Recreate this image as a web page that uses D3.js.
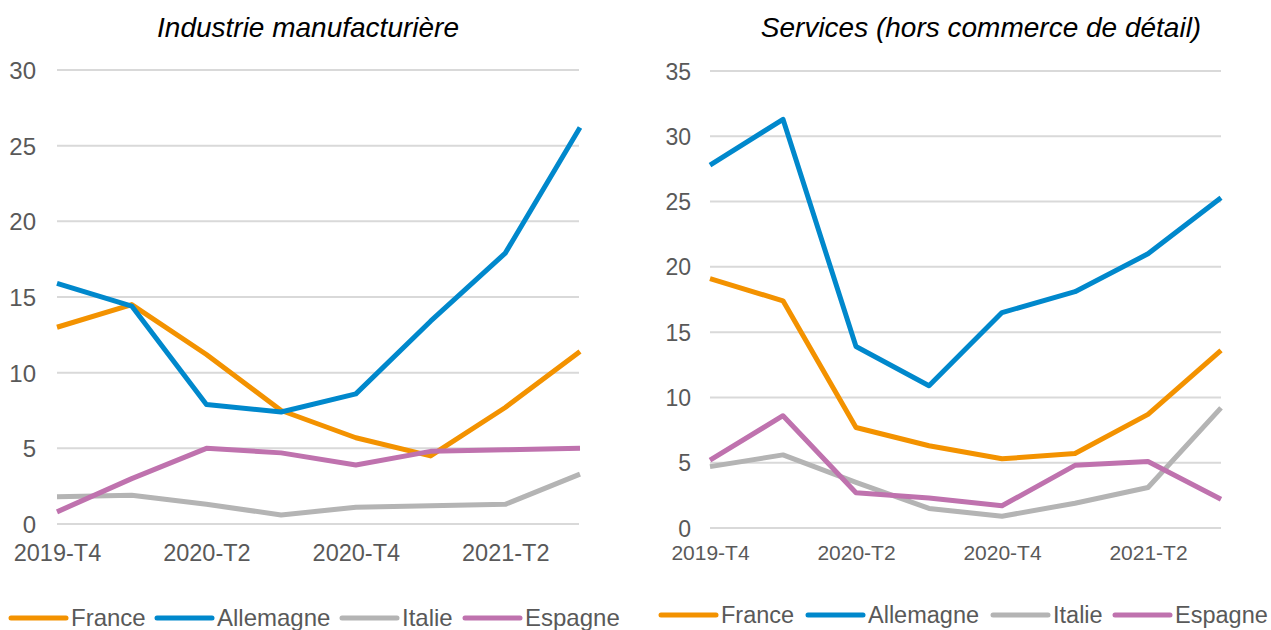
<!DOCTYPE html>
<html><head><meta charset="utf-8">
<script src="https://cdn.jsdelivr.net/npm/d3@7"></script>
<style>body{margin:0;background:#fff;}svg{display:block;font-family:"Liberation Sans",Arial,sans-serif;}</style>
</head><body>
<svg id="c" width="1271" height="630"></svg>
<script>
const quarters = ["2019-T4","2020-T1","2020-T2","2020-T3","2020-T4","2021-T1","2021-T2","2021-T3"];
const tickLabels = ["2019-T4","2020-T2","2020-T4","2021-T2"];
const seriesNames = ["France","Allemagne","Italie","Espagne"];
const seriesColors = ["#F39200","#0088CC","#B4B4B4","#BF72AE"];

const industrieFrance    = [13.0, 14.5, 11.2, 7.5, 5.7, 4.5, 7.7, 11.4];
const industrieAllemagne = [15.9, 14.4, 7.9, 7.4, 8.6, 13.4, 17.9, 26.2];
const industrieItalie    = [1.8, 1.9, 1.3, 0.6, 1.1, 1.2, 1.3, 3.3];
const industrieEspagne   = [0.8, 3.0, 5.0, 4.7, 3.9, 4.8, 4.9, 5.0];

const servicesFrance    = [19.1, 17.4, 7.7, 6.3, 5.3, 5.7, 8.7, 13.6];
const servicesAllemagne = [27.8, 31.3, 13.9, 10.9, 16.5, 18.1, 21.0, 25.3];
const servicesItalie    = [4.7, 5.6, 3.5, 1.5, 0.9, 1.9, 3.1, 9.2];
const servicesEspagne   = [5.2, 8.6, 2.7, 2.3, 1.7, 4.8, 5.1, 2.2];

const industrieTicks = [0,5,10,15,20,25,30];
const servicesTicks = [0,5,10,15,20,25,30,35];

const svg = d3.select("#c");

function panel(cfg){
  const g = svg.append("g");
  const x = d3.scalePoint().domain(quarters).range([cfg.x0, cfg.x1]);
  const y = d3.scaleLinear().domain([0, cfg.ymax]).range([cfg.yb, cfg.yt]);
  g.append("g").selectAll("line").data(cfg.yticks).join("line")
    .attr("x1", cfg.x0).attr("x2", cfg.gx1)
    .attr("y1", d=>y(d)).attr("y2", d=>y(d))
    .attr("stroke","#D9D9D9").attr("stroke-width",2);
  const ya = d3.axisLeft(y).tickValues(cfg.yticks).tickSize(0).tickPadding(0);
  const yg = g.append("g").attr("transform",`translate(${cfg.ylabX},0)`).call(ya);
  yg.select(".domain").remove();
  yg.selectAll("text").attr("fill","#595959").style("font-size",cfg.yfs+"px").attr("dy","0.35em");
  const xa = d3.axisBottom(x).tickValues(tickLabels).tickSize(0).tickPadding(0);
  const xg = g.append("g").attr("transform",`translate(0,${cfg.xlabY})`).call(xa);
  xg.select(".domain").remove();
  xg.selectAll("text").attr("fill","#595959").style("font-size",cfg.xfs+"px").attr("dy","0");
  const line = d3.line().x((d,i)=>x(quarters[i])).y(d=>y(d));
  cfg.data.forEach((s,i)=>{
    g.append("path").datum(s).attr("d",line).attr("fill","none")
      .attr("stroke",seriesColors[i]).attr("stroke-width",5).attr("stroke-linejoin","round");
  });
  g.append("text").attr("x",cfg.tx).attr("y",37).attr("text-anchor","middle")
    .style("font-size","28px").style("font-style","italic").attr("fill","#000").text(cfg.title);
  const lg = g.append("g");
  seriesNames.forEach((n,i)=>{
    const lx = cfg.legX[i];
    lg.append("line").attr("x1",lx).attr("x2",lx+55).attr("y1",cfg.legY).attr("y2",cfg.legY)
      .attr("stroke",seriesColors[i]).attr("stroke-width",5).attr("stroke-linecap","round");
    lg.append("text").attr("x",lx+60).attr("y",cfg.legY).attr("dy","0.35em")
      .attr("fill","#595959").style("font-size",cfg.lfs+"px").text(n);
  });
}

panel({x0:57, x1:580, gx1:579, yb:524, yt:70, ymax:30, yticks:industrieTicks, ylabX:36, yfs:24, xlabY:561, xfs:23.5, lfs:24,
  data:[industrieFrance,industrieAllemagne,industrieItalie,industrieEspagne],
  title:"Industrie manufacturière", tx:308, legX:[11,157,342,465], legY:618});
panel({x0:710, x1:1221, gx1:1221, yb:528, yt:71, ymax:35, yticks:servicesTicks, ylabX:691, yfs:23, xlabY:560, xfs:21, lfs:23.5,
  data:[servicesFrance,servicesAllemagne,servicesItalie,servicesEspagne],
  title:"Services (hors commerce de détail)", tx:981, legX:[661,808,993,1115], legY:615});
</script>
</body></html>
